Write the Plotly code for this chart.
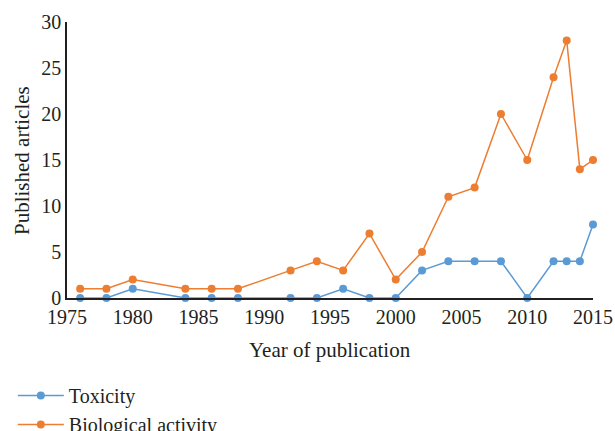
import plotly.graph_objects as go

years = [1976, 1978, 1980, 1984, 1986, 1988, 1992, 1994, 1996, 1998, 2000,
         2002, 2004, 2006, 2008, 2010, 2012, 2013, 2014, 2015]
toxicity = [0, 0, 1, 0, 0, 0, 0, 0, 1, 0, 0, 3, 4, 4, 4, 0, 4, 4, 4, 8]
biological = [1, 1, 2, 1, 1, 1, 3, 4, 3, 7, 2, 5, 11, 12, 20, 15, 24, 28, 14, 15]

x_ticks = [1975, 1980, 1985, 1990, 1995, 2000, 2005, 2010, 2015]
y_ticks = [0, 5, 10, 15, 20, 25, 30]

BLUE = "#5b9bd5"
ORANGE = "#ed7d31"
FONT = "Liberation Serif"
TXT = "#231f20"

fig = go.Figure()
fig.add_trace(go.Scatter(x=years, y=toxicity, name="Toxicity", mode="lines+markers",
                         line=dict(color=BLUE, width=1.5),
                         marker=dict(color=BLUE, size=8), cliponaxis=False))
fig.add_trace(go.Scatter(x=years, y=biological, name="Biological activity", mode="lines+markers",
                         line=dict(color=ORANGE, width=1.5),
                         marker=dict(color=ORANGE, size=8), cliponaxis=False))

fig.update_layout(
    width=615, height=431,
    margin=dict(l=67, r=22, t=22, b=133, autoexpand=False),
    paper_bgcolor="white", plot_bgcolor="white",
    font=dict(family=FONT, size=20, color=TXT),
    showlegend=True,
    legend=dict(x=-0.103, y=-0.283, xanchor="left", yanchor="top",
                font=dict(family=FONT, size=20, color=TXT), tracegroupgap=0,
                itemwidth=46, bgcolor="rgba(0,0,0,0)"),
    xaxis=dict(range=[1975, 2015], tickvals=x_ticks, showgrid=False, zeroline=False,
               showline=True, linecolor=TXT, linewidth=1.5, ticks="", automargin=False,
               tickfont=dict(family=FONT, size=20)),
    yaxis=dict(range=[0, 30], tickvals=y_ticks, showgrid=False, zeroline=False,
               showline=True, linecolor=TXT, linewidth=1.5, ticks="", automargin=False,
               tickfont=dict(family=FONT, size=20)),
    annotations=[
        dict(text="Year of publication", xref="paper", yref="paper", x=0.5, y=-0.188,
             xanchor="center", yanchor="middle", showarrow=False,
             font=dict(family=FONT, size=21, color=TXT)),
        dict(text="Published articles", xref="paper", yref="paper", x=-0.0856, y=0.5,
             xanchor="center", yanchor="middle", showarrow=False, textangle=-90,
             font=dict(family=FONT, size=21, color=TXT)),
    ],
)

fig.write_html("out.html", config={"displayModeBar": False},
               post_script="document.body.style.margin='0';")
